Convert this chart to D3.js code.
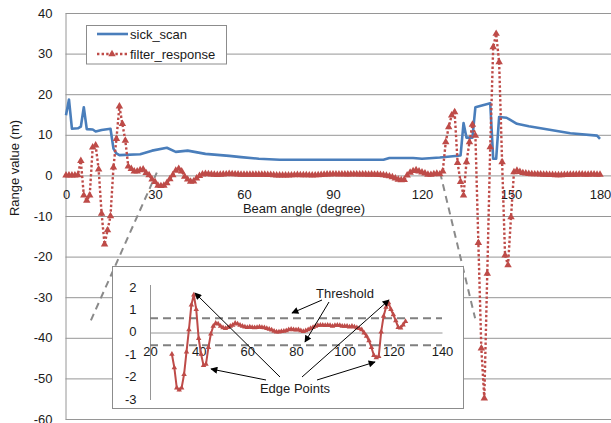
<!DOCTYPE html>
<html><head><meta charset="utf-8">
<script src="https://cdn.jsdelivr.net/npm/d3@7"></script>
<style>
body{margin:0;background:#fff;}
svg{display:block;font-family:"Liberation Sans",Arial,sans-serif;}
</style></head><body>
<svg id="c" width="611" height="423"></svg>
<script>
// ---- data ----
const sickAngles = [0,1,2,4,5,6,7,9,10,12,15,16,17,18,25,29,34,37,41,47,55,59,65,72,107,109,117,120,126,133,134,135,137,138,143,144,145,146,148.5,152,156,164,170,179,180];
const sickValues = [14.8,18.7,11.5,11.6,12.0,16.8,11.4,11.3,10.8,11.2,11.5,6.6,5.4,5.0,5.2,6.1,6.8,5.8,6.1,5.3,4.8,4.5,4.1,3.85,3.85,4.3,4.3,4.1,4.4,4.9,12.9,9.3,9.3,16.8,17.8,4.1,4.1,14.4,14.2,12.7,12.1,11.1,10.4,9.8,9.0];
const filterStart = 0; // angle of first value, 1 degree steps
const filterValues = [
 0,0,0,0,0.1,3.6,-4.9,-6.2,-4.9,6.9,
 7.4,1.5,-9.4,-17,-13.5,-10,2,9,17,12.7,
 8.6,2.2,1.6,1.0,1.0,1.3,1.5,0.6,0.1,-1.0,
 -1.6,-2.5,-2.6,-2.5,-1.9,-0.9,0.1,1.2,1.65,1.0,
 -0.3,-1.0,-1.5,-1.45,-0.7,-0.1,0.25,0.38,0.35,0.25,
 0.18,0.15,0.2,0.25,0.3,0.38,0.35,0.3,0.25,0.22,
 0.2,0.22,0.2,0.18,0.2,0.22,0.2,0.18,0.15,0.12,
 0.08,0.03,0.0,0.0,0.02,0.03,0.05,0.1,0.12,0.1,
 0.08,0.1,0.05,0.02,0.05,0.1,0.15,0.2,0.25,0.28,
 0.3,0.3,0.28,0.3,0.28,0.25,0.28,0.3,0.28,0.25,
 0.25,0.25,0.22,0.25,0.22,0.18,0.15,0.1,-0.05,-0.2,
 -0.4,-0.7,-1.05,-1.15,-1.1,0.0,0.7,1.1,1.3,1.0,
 0.76,0.5,0.2,0.17,0.31,0.46,0.3,1.0,8.2,11.9,
 14.8,15.6,3.1,-1.6,-4.9,3.3,8.2,12.5,9.8,-16.6,
 -42.6,-54.9,-24.2,7,31.6,34.9,27.9,3.3,-19.7,-22.1,
 -10.3,0.8,1.2,0.9,0.6,0.5,0.4,0.35,0.3,0.3,
 0.25,0.2,0.2,0.15,0.15,0.1,0.1,0.1,0.15,0.15,
 0.2,0.2,0.2,0.25,0.25,0.2,0.2,0.25,0.25,0.2,
 0.2];
const insetRange = [29,125];
const thresholds = [0.6,-0.6];
const xTicks = [0,30,60,90,120,150,180];
const yTicks = [-60,-50,-40,-30,-20,-10,0,10,20,30,40];
const insetXTicks = [20,40,60,80,100,120,140];
const insetYTicks = [-3,-2,-1,0,1,2];
const seriesNames = ["sick_scan","filter_response"];

// ---- build ----
const svg = d3.select("#c");
const W = 611;
const BLUE = "#4a7ebb", RED = "#be4b48", GRID = "#969696", TXT = "#1a1a1a";
const fmt = d => String(d);
const x = d3.scaleLinear().domain([0,180]).range([66,600]);
const y = d3.scaleLinear().domain([-60,40]).range([419,13]);
const left = 65.5;

const sick = sickAngles.map((a,i)=>({a, v:sickValues[i]}));
const filt = filterValues.map((v,i)=>({a:filterStart+i, v}));

// y axis + gridlines
const gy = svg.append("g").attr("transform",`translate(${left},0)`)
  .call(d3.axisLeft(y).tickValues(yTicks).tickFormat(fmt).tickSize(-(W-left)).tickSizeOuter(0).tickPadding(13));
gy.select(".domain").attr("stroke",GRID);
gy.selectAll(".tick line").attr("stroke",GRID);
gy.selectAll("text").attr("fill",TXT).style("font-size","13px");

// x axis labels (at zero line)
const gx = svg.append("g").attr("transform",`translate(0,${y(0)})`)
  .call(d3.axisBottom(x).tickValues(xTicks).tickFormat(fmt).tickSize(0).tickPadding(14));
gx.select(".domain").remove();
gx.selectAll("text").attr("fill",TXT).style("font-size","13px");

// axis titles
svg.append("text").attr("x",304).attr("y",213).attr("text-anchor","middle")
  .attr("fill",TXT).style("font-size","13px").text("Beam angle (degree)");
svg.append("text").attr("transform","translate(19,168) rotate(-90)").attr("text-anchor","middle")
  .attr("fill",TXT).style("font-size","13px").text("Range value (m)");

// zoom guide dashed lines
const guides = [[[8.4,-35.7],[30.6,0.7]],[[126.1,0.7],[137.9,-35.2]]];
guides.forEach(g=>{
  svg.append("line").attr("x1",x(g[0][0])).attr("y1",y(g[0][1])).attr("x2",x(g[1][0])).attr("y2",y(g[1][1]))
    .attr("stroke","#8a8a8a").attr("stroke-width",2).attr("stroke-dasharray","7,5");
});

// sick_scan line
svg.append("path").datum(sick).attr("fill","none").attr("stroke",BLUE).attr("stroke-width",2.6)
  .attr("stroke-linejoin","round")
  .attr("d",d3.line().x(d=>x(d.a)).y(d=>y(d.v)));

// filter_response dotted line + markers
svg.append("path").datum(filt).attr("fill","none").attr("stroke",RED).attr("stroke-width",2.4)
  .attr("stroke-dasharray","2.4,2.2")
  .attr("d",d3.line().x(d=>x(d.a)).y(d=>y(d.v)));
const tri = d3.symbol().type(d3.symbolTriangle).size(24);
svg.append("g").selectAll("path").data(filt).join("path")
  .attr("transform",d=>`translate(${x(d.a)},${y(d.v)})`).attr("d",tri).attr("fill",RED);

// legend
const lg = svg.append("g");
lg.append("rect").attr("x",86.5).attr("y",25.5).attr("width",140).attr("height",38.5)
  .attr("fill","#fff").attr("stroke","#8c8c8c");
lg.append("line").attr("x1",97).attr("x2",128).attr("y1",34).attr("y2",34).attr("stroke",BLUE).attr("stroke-width",2.6);
lg.append("line").attr("x1",97).attr("x2",128).attr("y1",54).attr("y2",54).attr("stroke",RED).attr("stroke-width",2.4).attr("stroke-dasharray","2.4,2.2");
lg.append("path").attr("transform","translate(112,54)").attr("d",tri).attr("fill",RED);
lg.append("text").attr("x",130).attr("y",38.5).attr("fill",TXT).style("font-size","13px").text(seriesNames[0]);
lg.append("text").attr("x",130).attr("y",58.5).attr("fill",TXT).style("font-size","13px").text(seriesNames[1]);

// ---- inset ----
const ins = svg.append("g");
ins.append("rect").attr("x",112.5).attr("y",266.5).attr("width",351).attr("height",142)
  .attr("fill","#fff").attr("stroke","#8c8c8c");
const xi = d3.scaleLinear().domain([20,140]).range([150,442]);
const yi = d3.scaleLinear().domain([-3,2]).range([399,287]);
const iyA = ins.append("g").attr("transform","translate(150.5,0)")
  .call(d3.axisLeft(yi).tickValues(insetYTicks).tickFormat(fmt).tickSize(0).tickPadding(14));
iyA.select(".domain").attr("stroke",GRID).attr("d","M0,285V400");
iyA.selectAll("text").attr("fill",TXT).style("font-size","13px");
const ixA = ins.append("g").attr("transform",`translate(0,${Math.round(yi(0))+0.5})`)
  .call(d3.axisBottom(xi).tickValues(insetXTicks).tickFormat(fmt).tickSize(0).tickSizeOuter(0).tickPadding(14));
ixA.select(".domain").attr("stroke",GRID);
ixA.selectAll("text").attr("fill",TXT).style("font-size","13px");
thresholds.forEach(t=>{
  ins.append("line").attr("x1",xi(20)).attr("x2",xi(140)).attr("y1",yi(t)).attr("y2",yi(t))
    .attr("stroke","#808080").attr("stroke-width",2).attr("stroke-dasharray","8,5");
});
const insData = filt.filter(d=>d.a>=insetRange[0] && d.a<=insetRange[1]);
ins.append("path").datum(insData).attr("fill","none").attr("stroke",RED).attr("stroke-width",2)
  .attr("d",d3.line().x(d=>xi(d.a)).y(d=>yi(d.v)));
const triS = d3.symbol().type(d3.symbolTriangle).size(13);
ins.append("g").selectAll("path").data(insData).join("path")
  .attr("transform",d=>`translate(${xi(d.a)},${yi(d.v)})`).attr("d",triS).attr("fill",RED);

// annotations
const defs = svg.append("defs");
defs.append("marker").attr("id","ah").attr("viewBox","0 0 10 10").attr("refX",9).attr("refY",5)
  .attr("markerWidth",9).attr("markerHeight",7).attr("markerUnits","userSpaceOnUse").attr("orient","auto")
  .append("path").attr("d","M0,0L10,5L0,10Z").attr("fill","#000");
const arrows = [
  [322,300,292,313],[329,302,305,342],
  [280,377,195,293],[266,380,211,369],[302,377,389,300],[317,380,375,362]
];
arrows.forEach(a=>{
  ins.append("line").attr("x1",a[0]).attr("y1",a[1]).attr("x2",a[2]).attr("y2",a[3])
    .attr("stroke","#000").attr("stroke-width",1).attr("marker-end","url(#ah)");
});
ins.append("text").attr("x",345).attr("y",298).attr("text-anchor","middle").attr("fill",TXT)
  .style("font-size","13px").text("Threshold");
ins.append("text").attr("x",295).attr("y",393).attr("text-anchor","middle").attr("fill",TXT)
  .style("font-size","13px").text("Edge Points");
</script>
</body></html>
